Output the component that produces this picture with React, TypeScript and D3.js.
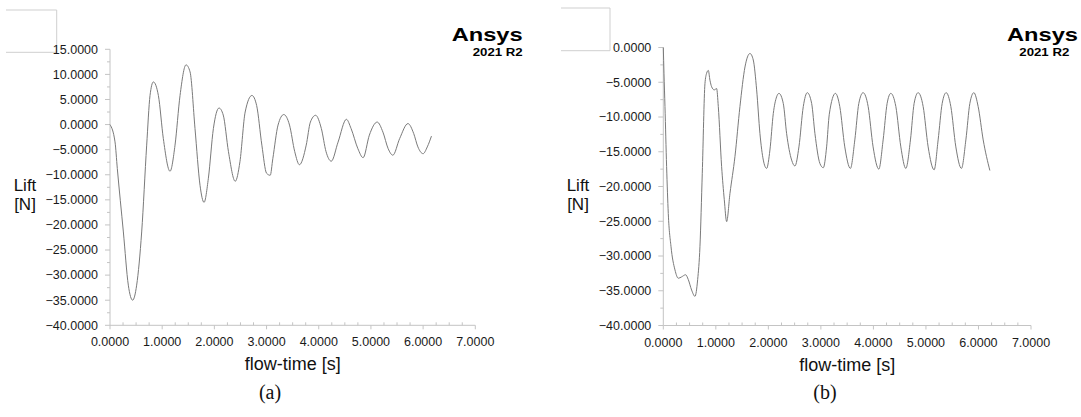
import React from "react";
import * as d3 from "d3";

// ---------- data ----------
const timeA = [0, 0.096, 0.14, 0.256, 0.351, 0.434, 0.511, 0.607, 0.703, 0.767, 0.831, 0.927, 1.022, 1.15, 1.246, 1.342, 1.457, 1.534, 1.629, 1.725, 1.802, 1.885, 1.981, 2.089, 2.17, 2.27, 2.4, 2.49, 2.59, 2.72, 2.81, 2.91, 3.0, 3.07, 3.12, 3.22, 3.33, 3.44, 3.54, 3.63, 3.76, 3.84, 3.94, 4.05, 4.14, 4.24, 4.37, 4.53, 4.62, 4.75, 4.85, 4.97, 5.12, 5.23, 5.33, 5.42, 5.55, 5.71, 5.82, 5.9, 6.0, 6.08, 6.16];
const liftA = [0, -3.45, -8.75, -21.4, -32.0, -35.0, -32.0, -21.4, -4.1, 5.8, 8.5, 5.8, -2.8, -9.3, -4.1, 5.8, 11.9, 10.5, -0.8, -12.1, -15.5, -10.7, -0.8, 3.3, 1.9, -5.4, -11.3, -7.4, 2.5, 5.8, 3.8, -4.1, -9.7, -10.1, -6.8, -0.1, 2.0, -0.1, -5.4, -8.0, -4.1, 0.5, 1.85, -0.8, -5.4, -7.3, -3.5, 1.05, -0.8, -4.8, -6.6, -2.1, 0.5, -1.5, -4.8, -6.1, -2.8, 0.2, -1.8, -4.45, -5.8, -4.45, -2.3];

const timeB = [0, 0.013, 0.032, 0.063, 0.095, 0.146, 0.222, 0.286, 0.349, 0.425, 0.476, 0.539, 0.603, 0.654, 0.698, 0.742, 0.793, 0.825, 0.857, 0.888, 0.92, 0.971, 1.015, 1.047, 1.11, 1.161, 1.206, 1.269, 1.364, 1.459, 1.555, 1.65, 1.713, 1.777, 1.84, 1.904, 1.967, 2.03, 2.094, 2.157, 2.202, 2.284, 2.348, 2.443, 2.506, 2.582, 2.665, 2.741, 2.824, 2.887, 2.982, 3.046, 3.109, 3.16, 3.277, 3.36, 3.455, 3.562, 3.646, 3.722, 3.804, 3.9, 3.994, 4.103, 4.185, 4.261, 4.331, 4.427, 4.522, 4.617, 4.705, 4.775, 4.851, 4.947, 5.042, 5.156, 5.232, 5.309, 5.385, 5.474, 5.569, 5.676, 5.76, 5.836, 5.912, 5.994, 6.09, 6.217];
const liftB = [0, -3.7, -8.5, -17.1, -23.9, -28.6, -32.0, -33.2, -33.0, -32.7, -33.4, -34.9, -35.8, -33.4, -28.6, -18.1, -5.2, -3.7, -3.3, -4.7, -5.65, -6.1, -5.9, -8.5, -17.1, -21.9, -25.05, -21.0, -15.7, -8.5, -2.8, -0.86, -1.8, -6.1, -12.4, -16.2, -17.4, -14.75, -9.5, -7.1, -6.6, -8.05, -12.4, -16.2, -17.05, -14.3, -8.5, -6.5, -8.05, -12.4, -16.7, -17.3, -14.3, -9.6, -6.6, -8.5, -14.3, -17.4, -13.3, -8.05, -6.5, -8.5, -14.3, -17.5, -13.3, -8.05, -6.6, -8.5, -14.3, -17.4, -13.3, -8.05, -6.5, -8.5, -14.3, -17.6, -13.3, -8.05, -6.5, -8.5, -14.3, -17.4, -13.3, -8.05, -6.5, -8.5, -13.3, -17.7];

const xTicks = [0, 1, 2, 3, 4, 5, 6, 7];
const yTicksA = [15, 10, 5, 0, -5, -10, -15, -20, -25, -30, -35, -40];
const yTicksB = [0, -5, -10, -15, -20, -25, -30, -35, -40];
const xLabel = "flow-time [s]";
const yLabel = ["Lift", "[N]"];
const captions = ["(a)", "(b)"];
const logo = ["Ansys", "2021 R2"];

const fmt = d3.format(".4f");
const SANS = "'Liberation Sans', Arial, sans-serif";

type ChartProps = {
  time: number[];
  lift: number[];
  yTicks: number[];
  x0: number; x1: number; y0: number; y1: number;
  box: [number, number, number, number];
  labelX: number;
  logoRight: number; subRight: number;
  captionX: number;
  caption: string;
};

function Chart(p: ChartProps) {
  const yMax = d3.max(p.yTicks)!;
  const yMin = d3.min(p.yTicks)!;
  const x = d3.scaleLinear().domain([0, 7]).range([p.x0, p.x1]);
  const y = d3.scaleLinear().domain([yMin, yMax]).range([p.y1, p.y0]);
  const pts = p.time.map((t, i) => [t, p.lift[i]] as [number, number]);
  const line = d3.line<[number, number]>().x(d => x(d[0])).y(d => y(d[1])).curve(d3.curveMonotoneX);
  const xMinor = d3.range(0, 7.001, 0.25).filter(v => Math.abs(v - Math.round(v)) > 1e-6);
  const yMinor = d3.range(yMin, yMax + 0.001, 2.5).filter(v => Math.abs(v / 5 - Math.round(v / 5)) > 1e-6);
  const axisColor = "#c4c4c4";
  const [bx0, by0, bx1, by1] = p.box;
  return (
    <g>
      <path d={`M${bx0},${by0}H${bx1}V${by1}H${bx0}`} fill="none" stroke="#cfcfcf" strokeWidth={1} />
      <line x1={p.x0} x2={p.x0} y1={p.y0} y2={p.y1} stroke={axisColor} />
      <line x1={p.x0} x2={p.x1} y1={p.y1} y2={p.y1} stroke={axisColor} />
      {p.yTicks.map(v => (
        <g key={"y" + v}>
          <line x1={p.x0 - 5} x2={p.x0} y1={y(v)} y2={y(v)} stroke={axisColor} />
          <text x={p.x0 - 12} y={y(v)} dy="0.35em" textAnchor="end" fontFamily={SANS} fontSize={12.5} fill="#1a1a1a">{fmt(v)}</text>
        </g>
      ))}
      {yMinor.map(v => (
        <line key={"ym" + v} x1={p.x0 - 3} x2={p.x0} y1={y(v)} y2={y(v)} stroke={axisColor} />
      ))}
      {xTicks.map(v => (
        <g key={"x" + v}>
          <line x1={x(v)} x2={x(v)} y1={p.y1} y2={p.y1 + 4} stroke={axisColor} />
          <text x={x(v)} y={p.y1 + 21} textAnchor="middle" fontFamily={SANS} fontSize={12.5} fill="#1a1a1a">{fmt(v)}</text>
        </g>
      ))}
      {xMinor.map(v => (
        <line key={"xm" + v} x1={x(v)} x2={x(v)} y1={p.y1} y2={p.y1 - 3} stroke={axisColor} />
      ))}
      <path d={line(pts) || ""} fill="none" stroke="#7a7a7a" strokeWidth={1} />
      <text x={(p.x0 + p.x1) / 2} y={p.y1 + 45} textAnchor="middle" fontFamily={SANS} fontSize={18} fill="#111">{xLabel}</text>
      <text x={p.labelX} y={191} textAnchor="middle" fontFamily={SANS} fontSize={17} fill="#111">{yLabel[0]}</text>
      <text x={p.labelX} y={209.5} textAnchor="middle" fontFamily={SANS} fontSize={17} fill="#111">{yLabel[1]}</text>
      <text x={p.logoRight} y={41} textAnchor="end" fontFamily={SANS} fontWeight="bold" fontSize={19} fill="#000" textLength={71} lengthAdjust="spacingAndGlyphs">{logo[0]}</text>
      <text x={p.subRight} y={56} textAnchor="end" fontFamily={SANS} fontWeight="bold" fontSize={11} fill="#000" textLength={50} lengthAdjust="spacingAndGlyphs">{logo[1]}</text>
      <text x={p.captionX} y={399} textAnchor="middle" fontFamily="'Liberation Serif', 'DejaVu Serif', serif" fontSize={20} fill="#111">{p.caption}</text>
    </g>
  );
}

export default function App() {
  return (
    <svg width={1081} height={417} style={{ position: "absolute", left: 0, top: 0, background: "#fff" }}>
      <Chart time={timeA} lift={liftA} yTicks={yTicksA}
        x0={110} x1={475.3} y0={49.3} y1={325.3}
        box={[6, 10, 56.7, 52.3]} labelX={25}
        logoRight={522.7} subRight={522.7} captionX={270} caption={captions[0]} />
      <Chart time={timeB} lift={liftB} yTicks={yTicksB}
        x0={663.3} x1={1031} y0={47.5} y1={325.5}
        box={[561, 8, 610, 50.7]} labelX={578}
        logoRight={1078} subRight={1069.3} captionX={825} caption={captions[1]} />
    </svg>
  );
}
